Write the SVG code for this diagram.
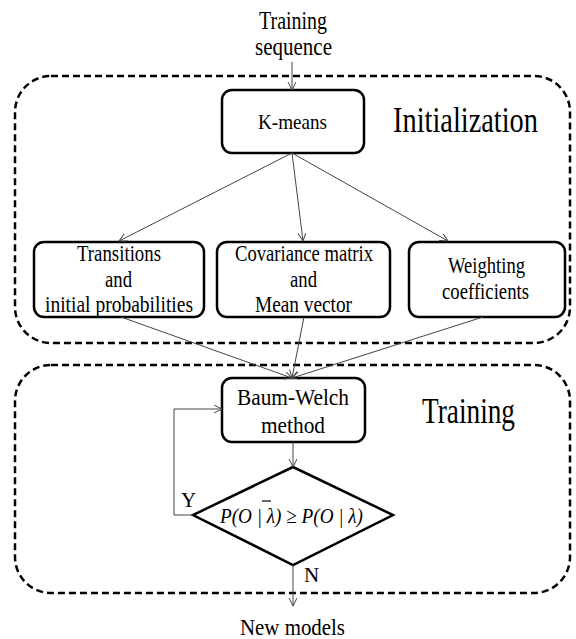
<svg xmlns="http://www.w3.org/2000/svg" width="576" height="639" viewBox="0 0 576 639" font-family="'Liberation Serif', 'DejaVu Serif', 'Times New Roman', serif">
<style>
text{font-family:'Liberation Serif','DejaVu Serif','Times New Roman',serif;fill:#000}
.lbl{font-size:23px}
.big{font-size:36px}
.box{fill:#fff;stroke:#000;stroke-width:2.5}
.dash{fill:none;stroke:#000;stroke-width:2.5;stroke-dasharray:7 4}
.edge{fill:none;stroke:#444;stroke-width:1}
</style>
<defs>
<marker id="arr" markerUnits="userSpaceOnUse" markerWidth="10" markerHeight="10" refX="8" refY="4" orient="auto">
<path d="M0,0 L8,4 L0,8" fill="none" stroke="#444" stroke-width="1"/>
</marker>
</defs>
<g id="group-init">
<rect class="dash" x="15" y="76" width="555" height="267" rx="36"/>
<text class="big" x="393" y="132" textLength="145" lengthAdjust="spacingAndGlyphs">Initialization</text>
</g>
<g id="group-training">
<rect class="dash" x="15" y="365" width="555" height="228" rx="36"/>
<text class="big" x="422" y="423" textLength="93" lengthAdjust="spacingAndGlyphs">Training</text>
</g>
<g id="input">
<text font-size="25" x="259" y="29" textLength="68" lengthAdjust="spacingAndGlyphs">Training</text>
<text font-size="25" x="255" y="55" textLength="77" lengthAdjust="spacingAndGlyphs">sequence</text>
</g>
<g id="kmeans">
<rect class="box" x="222" y="90" width="142" height="63" rx="10"/>
<text font-size="22" x="258" y="129" textLength="69" lengthAdjust="spacingAndGlyphs">K-means</text>
</g>
<g id="transitions">
<rect class="box" x="34" y="242" width="170" height="75" rx="10"/>
<text class="lbl" x="77" y="261" textLength="84" lengthAdjust="spacingAndGlyphs">Transitions</text>
<text class="lbl" x="105" y="287" textLength="27" lengthAdjust="spacingAndGlyphs">and</text>
<text class="lbl" x="45" y="312" textLength="148" lengthAdjust="spacingAndGlyphs">initial probabilities</text>
</g>
<g id="covariance">
<rect class="box" x="217" y="242" width="173" height="75" rx="10"/>
<text class="lbl" x="235" y="261" textLength="138" lengthAdjust="spacingAndGlyphs">Covariance matrix</text>
<text class="lbl" x="290" y="287" textLength="27" lengthAdjust="spacingAndGlyphs">and</text>
<text class="lbl" x="255" y="312" textLength="97" lengthAdjust="spacingAndGlyphs">Mean vector</text>
</g>
<g id="weighting">
<rect class="box" x="409" y="242" width="156" height="75" rx="10"/>
<text class="lbl" x="448" y="273" textLength="77" lengthAdjust="spacingAndGlyphs">Weighting</text>
<text class="lbl" x="442" y="299" textLength="87" lengthAdjust="spacingAndGlyphs">coefficients</text>
</g>
<g id="baumwelch">
<rect class="box" x="222" y="378" width="143" height="64" rx="10"/>
<text font-size="24" x="237" y="405" textLength="112" lengthAdjust="spacingAndGlyphs">Baum-Welch</text>
<text font-size="24" x="261" y="433" textLength="64" lengthAdjust="spacingAndGlyphs">method</text>
</g>
<g id="decision">
<polygon points="293,467 393,515 293,565 193,515" fill="#fff" stroke="#000" stroke-width="2.5"/>
<text font-size="22" font-style="italic" x="220" y="523" textLength="143" lengthAdjust="spacingAndGlyphs">P(O | λ) ≥ P(O | λ)</text>
<line x1="262" y1="501" x2="271" y2="501" stroke="#000" stroke-width="1.2"/>
</g>
<g id="output">
<text font-size="23" x="240" y="635" textLength="105" lengthAdjust="spacingAndGlyphs">New models</text>
</g>
<g id="connectors">
<line class="edge" x1="292" y1="62" x2="292" y2="90" marker-end="url(#arr)"/>
<line class="edge" x1="292" y1="153" x2="119" y2="241" marker-end="url(#arr)"/>
<line class="edge" x1="292" y1="153" x2="303" y2="241" marker-end="url(#arr)"/>
<line class="edge" x1="292" y1="153" x2="448" y2="241" marker-end="url(#arr)"/>
<line class="edge" x1="121" y1="317" x2="292" y2="378" marker-end="url(#arr)"/>
<line class="edge" x1="304" y1="317" x2="292" y2="378" marker-end="url(#arr)"/>
<line class="edge" x1="483" y1="317" x2="292" y2="378" marker-end="url(#arr)"/>
<line class="edge" x1="293" y1="442" x2="293" y2="467" marker-end="url(#arr)"/>
<polyline class="edge" points="193,515 174,515 174,409 222,409" marker-end="url(#arr)"/>
<line class="edge" x1="293" y1="565" x2="293" y2="606" marker-end="url(#arr)"/>
<text font-size="21" x="181" y="507">Y</text>
<text font-size="21" x="304" y="582">N</text>
</g>
</svg>
